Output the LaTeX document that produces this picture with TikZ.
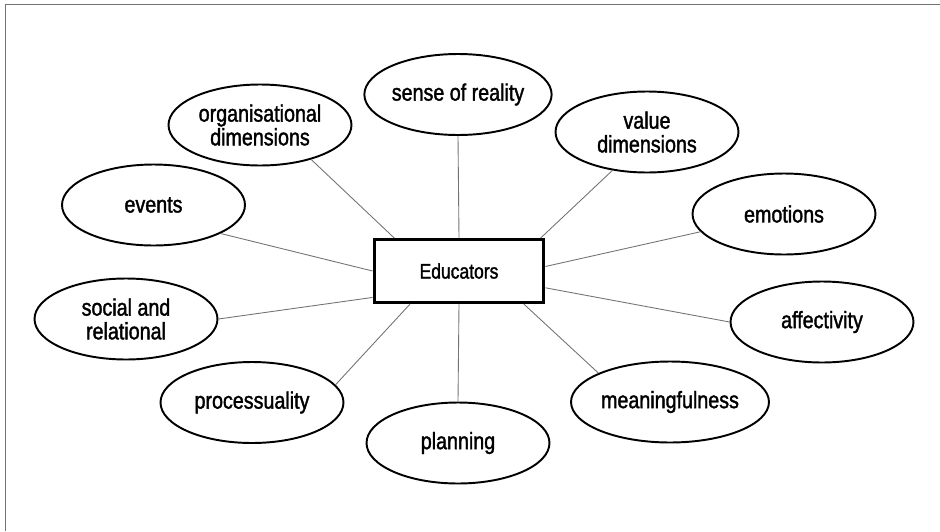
\documentclass[tikz,border=0pt]{standalone}
\usepackage{fontspec}
\newfontfamily\labelfont{Liberation Sans}[FakeStretch=0.83, FakeBold=1.5]
\usepackage{tikz}
\usetikzlibrary{shapes.geometric}

\begin{document}
\begin{tikzpicture}[x=0.02cm, y=-0.02cm,
    topic/.style={ellipse, draw, line width=1.1pt, inner sep=0pt, minimum width=3.66cm, minimum height=1.62cm, align=center, font=\labelfont\fontsize{13.5}{13.5}\selectfont},
    hub/.style={rectangle, draw, line width=1.7pt, minimum width=3.4cm, minimum height=1.26cm, font=\labelfont\fontsize{12}{13}\selectfont},
    link/.style={draw=black!55, line width=0.5pt}]
    \useasboundingbox (0,0) rectangle (940,531);
    \draw[black!55, line width=1.1pt] (5.5,531) -- (5.5,4.5) -- (940,4.5);

    \node[hub] (edu) at (459,271) {Educators};

    \node[topic] (sen) at (458,94.5) {sense of reality};
    \node[topic] (org) at (260,125) {organisational\\dimensions};
    \node[topic] (val) at (647,132) {value\\dimensions};
    \node[topic] (ev) at (153.5,205) {events};
    \node[topic] (emo) at (784,214) {emotions};
    \node[topic] (soc) at (126,319) {social and\\relational};
    \node[topic] (aff) at (822,322) {affectivity};
    \node[topic] (pro) at (252,402.5) {processuality};
    \node[topic, minimum width=3.96cm] (mea) at (670,402) {meaningfulness};
    \node[topic] (pla) at (458,443) {planning};

    \draw[link](sen.south)--(edu.north);
    \draw[link](org.-34)--(edu.153);
    \draw[link](val.-132)--(edu.22);
    \draw[link](ev.-23)--(edu.west);
    \draw[link](emo.192)--(edu.3);
    \draw[link](soc.east)--(edu.197);
    \draw[link](aff.west)--(edu.-11);
    \draw[link](pro.12)--(edu.214);
    \draw[link](pla.north)--(edu.south);
    \draw[link](mea.158)--(edu.-27);
\end{tikzpicture}
\end{document}
